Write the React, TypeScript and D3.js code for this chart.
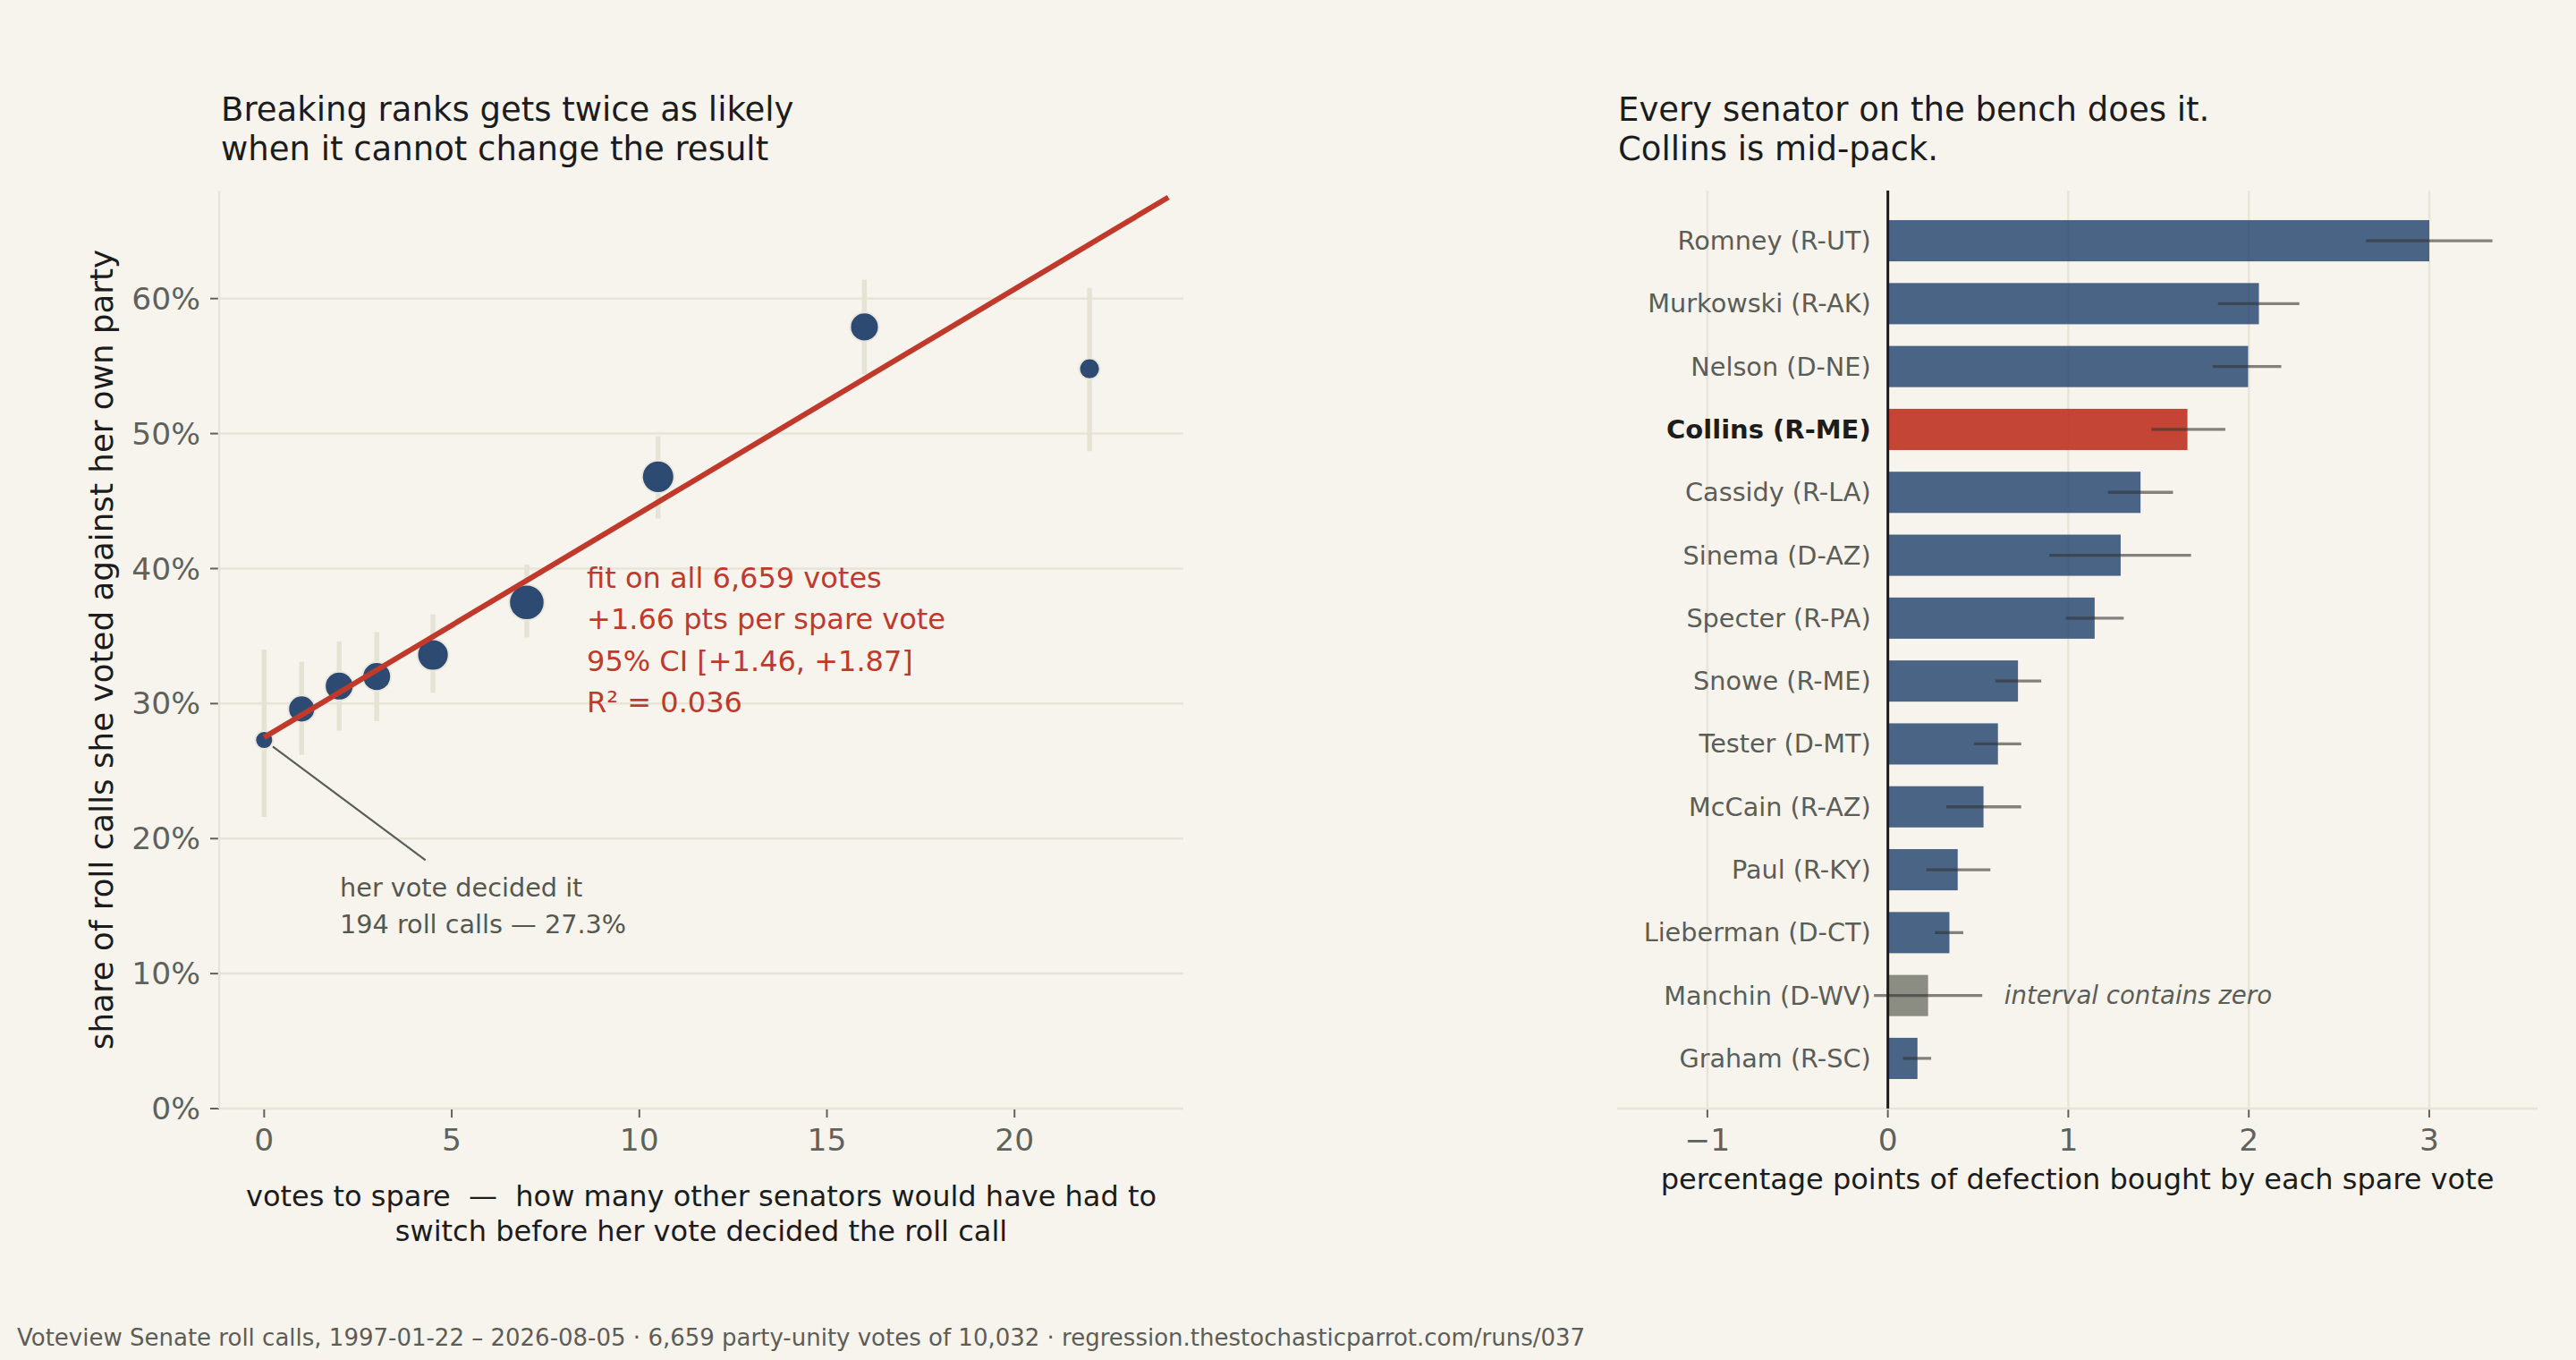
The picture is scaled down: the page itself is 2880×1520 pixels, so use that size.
import { useEffect } from "react";
import * as d3 from "d3";

// ---- data ----
const spareVotes = [0, 1, 2, 3, 4.5, 7, 10.5, 16, 22];
const defectShare = [0.273, 0.296, 0.313, 0.32, 0.336, 0.375, 0.468, 0.579, 0.548];
const shareLo = [0.216, 0.262, 0.28, 0.287, 0.308, 0.349, 0.437, 0.544, 0.487];
const shareHi = [0.34, 0.331, 0.346, 0.353, 0.366, 0.403, 0.498, 0.614, 0.608];
const rollCalls = [194, 440, 500, 500, 600, 760, 630, 500, 260];

const fitIntercept = 0.275;
const fitSlope = 0.0166;
const fitRange = [0, 24.1];

const senators = [
  "Romney (R-UT)", "Murkowski (R-AK)", "Nelson (D-NE)", "Collins (R-ME)",
  "Cassidy (R-LA)", "Sinema (D-AZ)", "Specter (R-PA)", "Snowe (R-ME)",
  "Tester (D-MT)", "McCain (R-AZ)", "Paul (R-KY)", "Lieberman (D-CT)",
  "Manchin (D-WV)", "Graham (R-SC)",
];
const slopes = [3.0, 2.056, 1.996, 1.66, 1.4, 1.29, 1.146, 0.721, 0.61, 0.53, 0.387, 0.341, 0.223, 0.164];
const slopeLo = [2.65, 1.83, 1.8, 1.46, 1.22, 0.895, 0.986, 0.596, 0.477, 0.324, 0.213, 0.261, -0.077, 0.084];
const slopeHi = [3.35, 2.28, 2.18, 1.87, 1.58, 1.68, 1.307, 0.85, 0.739, 0.739, 0.568, 0.418, 0.523, 0.24];

const leftYTicks = [0, 0.1, 0.2, 0.3, 0.4, 0.5, 0.6];
const leftXTicks = [0, 5, 10, 15, 20];
const rightXTicks = [-1, 0, 1, 2, 3];

const fitNote = ["fit on all 6,659 votes", "+1.66 pts per spare vote", "95% CI [+1.46, +1.87]", "R\u00b2 = 0.036"];
const pivotNote = ["her vote decided it", "194 roll calls \u2014 27.3%"];
const footer =
  "Voteview Senate roll calls, 1997-01-22 \u2013 2026-08-05 \u00b7 6,659 party-unity votes of 10,032 \u00b7 regression.thestochasticparrot.com/runs/037";

const W = 2880;
const H = 1520;
const BG = "#f7f4ee";
const GRID = "#e8e4d8";
const TICK = "#5f625c";
const INK = "#1c1c1c";
const NAVY = "#2c4a72";
const RED = "#c0392b";
const FONT = "DejaVu Sans, sans-serif";

export default function App() {
  useEffect(() => {
    document.body.style.margin = "0";
    document.body.style.background = BG;
  }, []);

  // left panel scales
  const lx = d3.scaleLinear().domain([-1.2, 24.5]).range([245, 1323]);
  const ly = d3.scaleLinear().domain([0, 0.68]).range([1239, 213]);
  const r = d3.scaleSqrt().domain([0, 194]).range([0, 10]);
  const fitLine = d3
    .line<number>()
    .x((v) => lx(v))
    .y((v) => ly(fitIntercept + fitSlope * v));

  // right panel scales
  const rx = d3.scaleLinear().domain([-1.5, 3.6]).range([1808, 2837]);
  const ry = d3
    .scaleBand<string>()
    .domain(senators)
    .range([213, 1239])
    .paddingInner(0.345)
    .paddingOuter(0.47);
  const bw = ry.bandwidth();

  const pct = d3.format(".0%");
  const num = (v: number) => (v < 0 ? "\u2212" + Math.abs(v) : String(v));

  // pivot annotation: leader from edge of the x=0 point
  const p0x = lx(spareVotes[0]);
  const p0y = ly(defectShare[0]);
  const endX = lx(4.3);
  const endY = ly(0.184);
  const ang = Math.atan2(endY - p0y, endX - p0x);
  const rr = r(rollCalls[0]) + 2;

  const manchin = senators.indexOf("Manchin (D-WV)");

  return (
    <div style={{ position: "absolute", left: 0, top: 0 }}>
      <svg width={W} height={H} style={{ display: "block", background: BG }} fontFamily={FONT}>
        <rect width={W} height={H} fill={BG} />

        {/* ---------- left panel ---------- */}
        <text x={247} y={135} fontSize={37} fill={INK}>Breaking ranks gets twice as likely</text>
        <text x={247} y={179} fontSize={37} fill={INK}>when it cannot change the result</text>

        {leftYTicks.map((t) => (
          <g key={t}>
            <line x1={lx.range()[0]} x2={lx.range()[1]} y1={ly(t)} y2={ly(t)} stroke={GRID} strokeWidth={2.5} />
            <line x1={235} x2={245} y1={ly(t)} y2={ly(t)} stroke={TICK} strokeWidth={2} />
            <text x={224} y={ly(t)} dy="0.35em" textAnchor="end" fontSize={34.5} fill={TICK}>{pct(t)}</text>
          </g>
        ))}
        <line x1={245} x2={245} y1={213} y2={1239} stroke={GRID} strokeWidth={2.5} />
        {leftXTicks.map((t) => (
          <g key={t}>
            <line x1={lx(t)} x2={lx(t)} y1={1240} y2={1249} stroke={TICK} strokeWidth={2} />
            <text x={lx(t)} y={1286} textAnchor="middle" fontSize={34.5} fill={TICK}>{t}</text>
          </g>
        ))}

        {spareVotes.map((v, i) => (
          <line key={"e" + i} x1={lx(v)} x2={lx(v)} y1={ly(shareLo[i])} y2={ly(shareHi[i])} stroke="#e6e2d4" strokeWidth={5.5} />
        ))}
        {spareVotes.map((v, i) => (
          <circle key={"c" + i} cx={lx(v)} cy={ly(defectShare[i])} r={r(rollCalls[i])} fill={NAVY} stroke="#ebe7dc" strokeWidth={2} />
        ))}
        <line
          x1={p0x + rr * Math.cos(ang)}
          y1={p0y + rr * Math.sin(ang)}
          x2={endX}
          y2={endY}
          stroke="#5a5e58"
          strokeWidth={2.2}
        />
        <path d={fitLine(fitRange) ?? ""} fill="none" stroke={RED} strokeWidth={6} />

        {fitNote.map((s, i) => (
          <text key={s} x={lx(8.6)} y={ly(0.386) + i * 46.5} fontSize={32} fill={RED}>{s}</text>
        ))}
        {pivotNote.map((s, i) => (
          <text key={s} x={lx(2.02)} y={ly(0.157) + i * 41} fontSize={28.7} fill="#55584f">{s}</text>
        ))}

        <text x={784} y={1348} textAnchor="middle" fontSize={32} fill={INK} style={{ whiteSpace: "pre" }}>
          {"votes to spare  \u2014  how many other senators would have had to"}
        </text>
        <text x={784} y={1387} textAnchor="middle" fontSize={32} fill={INK}>
          switch before her vote decided the roll call
        </text>
        <text transform={`translate(126,${(213 + 1239) / 2}) rotate(-90)`} textAnchor="middle" fontSize={35.7} fill={INK}>
          share of roll calls she voted against her own party
        </text>

        {/* ---------- right panel ---------- */}
        <text x={1809} y={135} fontSize={37} fill={INK}>Every senator on the bench does it.</text>
        <text x={1809} y={179} fontSize={37} fill={INK}>Collins is mid-pack.</text>

        {rightXTicks.map((t) => (
          <g key={t}>
            {t !== 0 && <line x1={rx(t)} x2={rx(t)} y1={213} y2={1239} stroke={GRID} strokeWidth={2.5} />}
            <line x1={rx(t)} x2={rx(t)} y1={1240} y2={1249} stroke={TICK} strokeWidth={2} />
            <text x={rx(t)} y={1286} textAnchor="middle" fontSize={34.5} fill={TICK}>{num(t)}</text>
          </g>
        ))}
        <line x1={1808} x2={2837} y1={1239} y2={1239} stroke={GRID} strokeWidth={2.5} />

        {senators.map((s, i) => {
          const y = ry(s) ?? 0;
          const isCollins = s.startsWith("Collins");
          const isZero = slopeLo[i] <= 0;
          return (
            <g key={s}>
              <rect
                x={rx(0)}
                y={y}
                width={rx(slopes[i]) - rx(0)}
                height={bw}
                fill={isCollins ? RED : isZero ? "#8b8c82" : NAVY}
                fillOpacity={isCollins ? 0.94 : isZero ? 1 : 0.85}
              />
              <line
                x1={rx(slopeLo[i])}
                x2={rx(slopeHi[i])}
                y1={y + bw / 2}
                y2={y + bw / 2}
                stroke="#333"
                strokeOpacity={0.6}
                strokeWidth={3.3}
              />
              <text
                x={rx(0) - 19}
                y={y + bw / 2}
                dy="0.35em"
                textAnchor="end"
                fontSize={isCollins ? 29 : 28.7}
                fontWeight={isCollins ? "bold" : "normal"}
                fill={isCollins ? INK : "#5b5d57"}
              >
                {s}
              </text>
            </g>
          );
        })}
        <line x1={rx(0)} x2={rx(0)} y1={213} y2={1239} stroke={INK} strokeWidth={3} />
        <text
          x={rx(0.645)}
          y={(ry(senators[manchin]) ?? 0) + bw / 2}
          dy="0.35em"
          fontSize={27.6}
          fontStyle="italic"
          fill="#5b5d57"
        >
          interval contains zero
        </text>

        <text x={2322.5} y={1329} textAnchor="middle" fontSize={32} fill={INK}>
          percentage points of defection bought by each spare vote
        </text>

        <text x={19} y={1504} fontSize={26} fill="#5d5d58">{footer}</text>
      </svg>
    </div>
  );
}
